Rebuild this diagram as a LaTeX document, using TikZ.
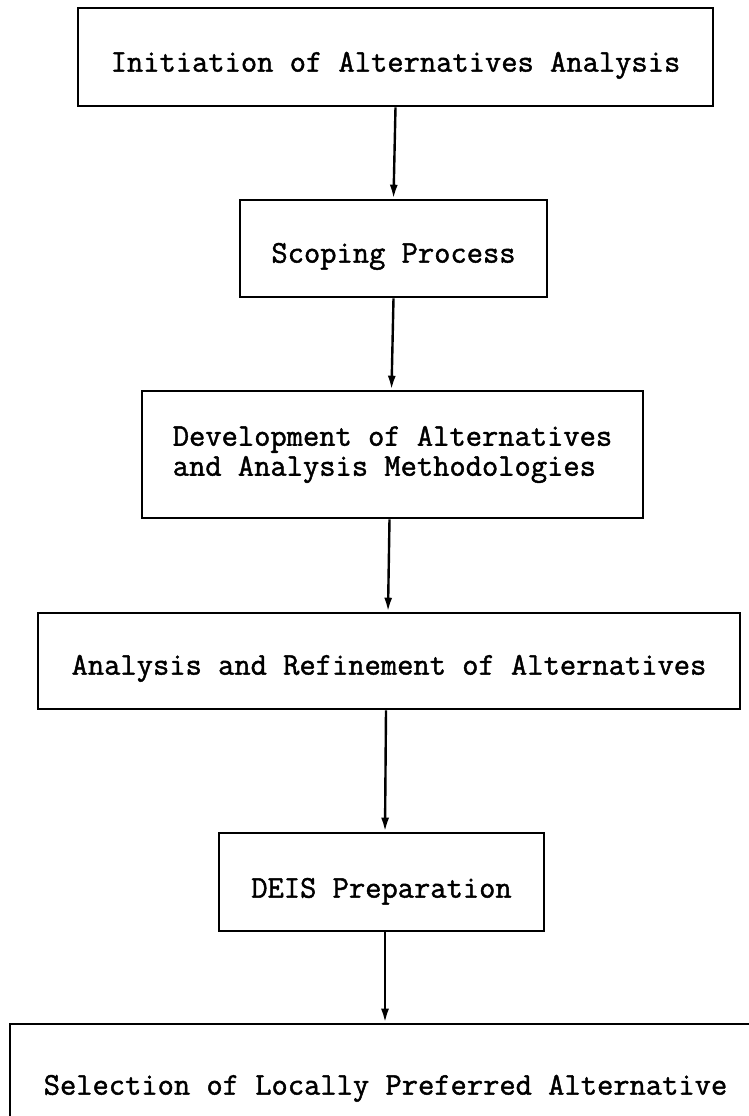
\documentclass[tikz,border=0pt]{standalone}
\usepackage{fontspec}
\newfontfamily\typer[FakeBold=1.4]{Latin Modern Mono}
\usetikzlibrary{arrows.meta}
\begin{document}
\begin{tikzpicture}[x=1pt,y=-1pt,
  stepbox/.style={draw, line width=2.6pt, inner sep=0pt,
    font=\typer\fontsize{31.6}{30}\selectfont},
  lift/.style={text height=#1, text depth=0pt},
  flow/.style={line width=2.4pt, -{Latex[length=14pt,width=8pt]}}]
  \useasboundingbox (0,0) rectangle (749,1116);
  \clip (0,0) rectangle (749,1116);

  % process boxes, top to bottom
  \node[stepbox, lift=29.3pt, minimum width=635pt, minimum height=98pt]
    (b1) at (395.5,57) {Initiation of Alternatives Analysis};
  \node[stepbox, lift=28.3pt, minimum width=307pt, minimum height=97pt]
    (b2) at (393.5,248.5) {Scoping Process};
  \node[stepbox, align=left, minimum width=501pt, minimum height=127pt]
    (b3) at (392.5,454.5) {Development of Alternatives\\and Analysis Methodologies};
  \node[stepbox, lift=27.3pt, minimum width=702pt, minimum height=96pt]
    (b4) at (389,661) {Analysis and Refinement of Alternatives};
  \node[stepbox, lift=31.3pt, minimum width=325pt, minimum height=98pt]
    (b5) at (381.5,882) {DEIS Preparation};
  \node[stepbox, lift=21.3pt, minimum width=751pt, minimum height=120pt]
    (b6) at (385.5,1084) {Selection of Locally Preferred Alternative};

  % connectors
  \draw[flow] (b1.south) -- (b2.north);
  \draw[flow] (b2.south) -- ([xshift=-1pt]b3.north);
  \draw[flow] ([xshift=-3pt]b3.south) -- ([xshift=-1pt]b4.north);
  \draw[flow] ([xshift=-3pt]b4.south) -- ([xshift=3.5pt]b5.north);
  \draw[flow] ([xshift=3.5pt]b5.south) -- ([xshift=-0.5pt]b6.north);
\end{tikzpicture}
\end{document}
